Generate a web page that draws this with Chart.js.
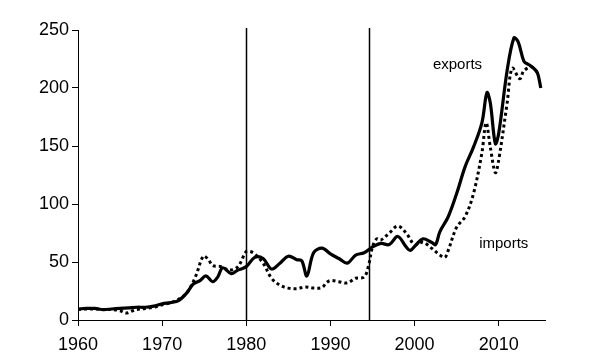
<!DOCTYPE html>
<html>
<head>
<meta charset="utf-8">
<script src="https://cdn.jsdelivr.net/npm/chart.js@4/dist/chart.umd.min.js"></script>
<style>
  html, body { margin: 0; padding: 0; background: #fff; }
  #wrap { width: 600px; height: 360px; }
</style>
</head>
<body>
<div id="wrap"><canvas id="chart"></canvas></div>
<script>
const exportYears = [1960, 1961, 1962, 1963, 1964, 1965, 1966, 1967, 1968, 1969, 1970, 1971, 1972, 1973, 1973.7, 1974.5, 1975.2, 1976, 1976.6, 1977.2, 1978.2, 1979, 1980, 1981, 1982, 1983, 1984, 1985, 1986, 1986.6, 1987.2, 1988, 1989, 1990, 1991, 1992, 1993, 1994, 1995, 1996, 1997, 1998, 1999, 1999.5, 2000.2, 2001, 2002, 2002.5, 2003, 2004, 2005, 2006, 2007, 2008, 2008.6, 2009, 2009.6, 2010, 2011, 2011.8, 2012.3, 2013, 2013.6, 2014, 2014.6, 2015];
const exportValues = [9.5, 10, 10, 9, 9.5, 10, 10.5, 11, 11, 12, 14, 15, 17, 24, 31, 34, 38, 33, 37, 45, 40, 43, 46, 54, 53, 44, 49, 55, 52, 51, 38, 58, 62, 57, 53, 49, 56, 58, 63, 66, 65, 72, 63, 60, 65, 70, 67, 65, 76, 89, 109, 132, 149, 170, 196, 187, 152, 161, 215, 243, 240, 223, 220, 218, 213, 200];

const importYears = [1960, 1961, 1962, 1963, 1964, 1965, 1965.7, 1966.5, 1967, 1968, 1969, 1970, 1971, 1972, 1973, 1974, 1974.9, 1975.5, 1976, 1977, 1978, 1979, 1980, 1980.5, 1981, 1982, 1983, 1984, 1985, 1986, 1987, 1988, 1989, 1989.5, 1990, 1991, 1992, 1993, 1994, 1994.5, 1995, 1995.5, 1996, 1997, 1998, 1999, 2000, 2001, 2002, 2003, 2003.6, 2004, 2005, 2006, 2007, 2008, 2008.5, 2009, 2009.6, 2010, 2011, 2011.6, 2012.5, 2013, 2014, 2014.6];
const importValues = [9, 9.5, 9.5, 9, 9, 8, 6, 8, 9, 10, 11, 13, 15, 18, 24, 38, 55, 52, 47, 46, 43, 46, 59, 59, 57, 49, 36, 30, 27.5, 27, 28.5, 27.5, 28, 32, 34, 33, 32, 36, 37, 46, 63, 70, 69, 75, 81, 75, 65, 67, 62, 56, 54, 60, 80, 89, 109, 144, 170, 149, 127, 138, 187, 217, 208, 215, 218, 213];

const xTickLabels = [1960, 1970, 1980, 1990, 2000, 2010];
const markerYears = [1980, 1994.6];
const seriesLabels = [
  { text: "exports", x: 2005.1, y: 220 },
  { text: "imports", x: 2010.6, y: 66 }
];

const FONT = "'Liberation Sans', Arial, sans-serif";

function toPoints(xs, ys) {
  return xs.map((x, i) => ({ x, y: ys[i] }));
}

const overlay = {
  id: "overlay",
  afterDatasetsDraw(chart) {
    const { ctx, chartArea, scales } = chart;
    ctx.save();
    ctx.strokeStyle = "#000";
    ctx.lineWidth = 1.5;
    markerYears.forEach((yr) => {
      const px = Math.round(scales.x.getPixelForValue(yr)) + 0.5;
      ctx.beginPath();
      ctx.moveTo(px, chartArea.top - 2);
      ctx.lineTo(px, chartArea.bottom);
      ctx.stroke();
    });
    ctx.fillStyle = "#000";
    ctx.font = "15px " + FONT;
    ctx.textAlign = "center";
    ctx.textBaseline = "middle";
    seriesLabels.forEach((l) => {
      ctx.fillText(l.text, scales.x.getPixelForValue(l.x), scales.y.getPixelForValue(l.y));
    });
    ctx.restore();
  }
};

new Chart(document.getElementById("chart"), {
  type: "line",
  data: {
    datasets: [
      {
        label: "exports",
        data: toPoints(exportYears, exportValues),
        borderColor: "#000",
        borderWidth: 3.2,
        pointRadius: 0,
        tension: 0.35,
        fill: false,
      },
      {
        label: "imports",
        data: toPoints(importYears, importValues),
        borderColor: "#000",
        borderWidth: 3,
        borderDash: [3, 3],
        pointRadius: 0,
        tension: 0.35,
        fill: false,
      },
    ],
  },
  options: {
    responsive: true,
    maintainAspectRatio: false,
    animation: false,
    layout: { padding: { top: 30, right: 55, left: 0, bottom: 0 } },
    plugins: { legend: { display: false }, tooltip: { enabled: false } },
    scales: {
      x: {
        type: "linear",
        min: 1960,
        max: 2015.5,
        grid: { display: true, drawOnChartArea: false, drawTicks: true, tickLength: 6, color: "#000" },
        border: { display: true, color: "#000", width: 1 },
        ticks: {
          color: "#000",
          font: { size: 18, family: FONT },
          padding: 8,
          maxRotation: 0,
          callback: (v) => String(v),
        },
        afterBuildTicks(scale) {
          scale.ticks = xTickLabels.map((v) => ({ value: v }));
        },
        afterFit(scale) { scale.height = 40; },
      },
      y: {
        min: 0,
        max: 250,
        grid: { display: true, drawOnChartArea: false, drawTicks: true, tickLength: 6, color: "#000" },
        border: { display: true, color: "#000", width: 1 },
        ticks: { stepSize: 50, color: "#000", font: { size: 18, family: FONT }, padding: 3 },
        afterFit(scale) { scale.width = 78; },
      },
    },
  },
  plugins: [overlay],
});
</script>
</body>
</html>
